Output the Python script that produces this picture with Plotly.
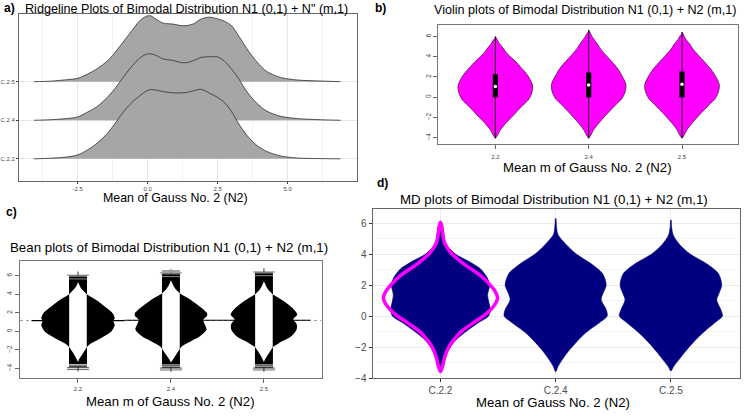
import plotly.graph_objects as go

W, H = 746, 416
FONT = "Liberation Sans, Arial, sans-serif"

# ---------------- Panel a: ridgeline densities ----------------
ridge_x = [-4.06, -3.5, -2.9, -2.5, -2.15, -1.8, -1.45, -1.2, -0.9, -0.6, -0.3, -0.05, 0.1, 0.3,
           0.55, 0.9, 1.2, 1.4, 1.65, 1.9, 2.2, 2.5, 2.75, 3.0, 3.25, 3.55, 3.9, 4.25, 4.75, 5.35, 6.2, 6.89]
ridge_labels = ["C.2.2", "C.2.4", "C.2.5"]
dens_c25 = [0, 0.5, 2, 3.4, 7.7, 13.3, 20.8, 28.3, 39.3, 50.3, 61.2, 66.2, 66.7, 63.2, 59.2, 58.3, 56.7,
            56.8, 58.7, 63.3, 65.3, 63.5, 61, 56.5, 46.3, 33, 20, 10.4, 4.3, 1.7, 0.7, 0]
dens_c24 = [0, 0.5, 1.7, 3.4, 8.3, 14, 23, 31, 42.5, 53.5, 62.5, 66.8, 67.3, 65.5, 62, 60.5, 58.3,
            58.3, 60.5, 63.5, 64.2, 64, 59.5, 51.5, 42, 28.6, 17.2, 9.3, 4, 1.7, 0.5, 0]
dens_c22 = [0, 0.6, 1.8, 4, 9, 16, 25.5, 34.5, 46.3, 56, 63.5, 68.5, 70, 69.5, 68, 66.7, 66.7,
            67.2, 69, 70.3, 66.5, 62, 56.8, 47.5, 35.5, 23.5, 13.5, 7.5, 2.8, 0.8, 0.2, 0]
ridge_ticks = [-2.5, 0.0, 2.5, 5.0]
ridge_ticktext = ["-2.5", "0.0", "2.5", "5.0"]

# ---------------- Panel b: violin profiles ----------------
violin_labels = ["2.2", "2.4", "2.5"]
vio_y_22 = [6.0, 5.7, 5.3, 4.86, 4.4, 4.0, 3.5, 2.9, 2.4, 2.0, 1.5, 1.1, 0.7, 0.3, -0.3, -0.8, -1.3,
            -2.0, -2.5, -2.9, -3.3, -3.6, -3.85, -4.05]
vio_y_24 = [6.65, 6.3, 5.9, 5.4, 4.9, 4.4, 3.8, 3.2, 2.6, 2.1, 1.6, 1.2, 0.8, 0.4, -0.2, -0.7, -1.2,
            -1.9, -2.45, -2.85, -3.3, -3.6, -3.85, -4.05]
vio_y_25 = [6.45, 6.1, 5.7, 5.25, 4.75, 4.3, 3.7, 3.1, 2.55, 2.1, 1.6, 1.2, 0.8, 0.4, -0.2, -0.7, -1.2,
            -1.9, -2.45, -2.85, -3.3, -3.6, -3.85, -4.05]
vio_dens = [0, 1.8, 4, 7.7, 11, 15, 20.5, 26, 30.5, 33.3, 36, 37.3, 37, 36, 32.7, 27.5, 22.7,
            16, 11, 7.7, 4.5, 3, 1.5, 0]
vio_q1 = [0.0, 0.0, 0.0]
vio_q3 = [2.27, 2.44, 2.54]
vio_med = [1.07, 1.22, 1.28]

# ---------------- Panel c: bean profiles ----------------
bean_labels = ["2.2", "2.4", "2.5"]
bean_y_22 = [4.3, 4.0, 3.3, 2.4, 1.9, 1.4, 1.15, 0.7, 0.0, -0.7, -1.4, -1.7, -2.0]
bean_d_22 = [3, 8.5, 19.3, 30, 35, 36.7, 35.3, 36.7, 33.3, 23.3, 11.5, 8.5, 3]
bean_y_24 = [4.4, 4.1, 3.3, 2.4, 1.9, 1.6, 1.25, 0.72, 0.2, -0.5, -1.0, -1.6, -1.9, -2.2]
bean_d_24 = [3, 8.5, 21, 32, 36.3, 35.6, 32.3, 34, 35.6, 29.4, 21, 11, 8.5, 3]
bean_y_25 = [4.3, 4.0, 3.3, 2.6, 2.1, 1.8, 1.3, 0.8, 0.2, -0.5, -1.2, -1.7, -2.0]
bean_d_25 = [3, 8.5, 19.3, 27.7, 32, 33.3, 29.3, 32.7, 32.7, 27.7, 16, 8.5, 3]
white_y_22 = [5.3, 5.0, 4.7, 4.4, 4.15, 4.0, -1.7, -1.95, -2.3, -2.7, -3.0, -3.3]
white_y_24 = [5.5, 5.2, 4.85, 4.5, 4.25, 4.1, -1.9, -2.15, -2.5, -2.85, -3.1, -3.35]
white_y_25 = [5.4, 5.1, 4.75, 4.4, 4.15, 4.0, -1.7, -1.95, -2.3, -2.7, -3.0, -3.3]
white_d = [0, 1.1, 2.7, 4.9, 7.3, 8.8, 8.8, 7.3, 4.9, 2.7, 1.1, 0]
bean_min = [-3.86, -3.9, -3.9]
bean_max = [6.0, 6.25, 6.35]
bean_mean = [1.16, 1.2, 1.2]
overall_mean = 1.18

# ---------------- Panel d: MD plot profiles ----------------
md_labels = ["C.2.2", "C.2.4", "C.2.5"]
md_y_22 = [5.6, 5.16, 4.5, 4.0, 3.47, 3.05, 2.5, 2.0, 1.37, 0.95, 0.42, 0.0, -0.42, -0.95, -1.47,
           -2.0, -2.53, -3.05, -3.58]
md_d_22 = [0, 2.7, 7.3, 15, 30, 40, 46.7, 49.3, 47.3, 48.3, 50, 48.3, 38.3, 26.7, 16.7, 10, 5.7, 3, 0]
md_y_24 = [6.3, 5.8, 5.26, 4.6, 4.0, 3.37, 2.74, 2.0, 1.47, 1.05, 0.42, 0.0, -0.42, -1.05, -1.68,
           -2.3, -2.84, -3.26, -3.6]
md_d_24 = [0.4, 0.8, 2.3, 10.7, 20.7, 35.7, 47, 50.7, 47.5, 45.7, 50.7, 51.7, 44, 30.7, 20.7, 12.3,
           6.3, 2.3, 0]
md_y_25 = [6.2, 5.7, 5.2, 4.6, 4.0, 3.37, 2.74, 2.0, 1.47, 1.05, 0.42, 0.0, -0.42, -1.05, -1.68,
           -2.3, -2.84, -3.26, -3.55]
md_d_25 = [0.4, 0.8, 2.5, 9, 19.3, 36, 47.7, 51, 48.3, 46, 50, 51.7, 44.3, 32.7, 22.7, 14.3, 7.7, 2.7, 0]
gauss_y = [6.05, 5.8, 4.74, 4.0, 3.37, 2.63, 2.0, 1.58, 1.16, 0.63, 0.1, -0.42, -0.95, -1.47, -2.0,
           -2.63, -3.26, -3.58]
gauss_d = [0, 1.3, 4, 11.7, 23.3, 40, 50, 55, 57.3, 53.3, 45, 33.3, 21.7, 14, 8.3, 4.3, 2, 0]

# ---------------- scale constants (style) ----------------
RIDGE_SCALE = 1 / 39.0
VIO_SCALE = 1 / 93.3
BEAN_SCALE = 1 / 93.0
MD_SCALE = 1 / 115.6


def mirror(c, ys, ds, scale, close=False):
    X = [c + d * scale for d in ds]
    Y = list(ys)
    for i in range(len(ys) - 1, -1, -1):
        if ds[i] == 0:
            continue
        X.append(c - ds[i] * scale)
        Y.append(ys[i])
    if close:
        X.append(X[0])
        Y.append(Y[0])
    return X, Y


fig = go.Figure()


def poly(X, Y, ax, fill, line_color=None, lw=0, shape="spline"):
    fig.add_trace(go.Scatter(
        x=X, y=Y, xaxis="x" + ax, yaxis="y" + ax, mode="lines", fill="toself",
        fillcolor=fill, line=dict(color=line_color or fill, width=lw, shape=shape, smoothing=0.8),
        hoverinfo="skip", showlegend=False))


def seg(X, Y, ax, color, lw=1, dash="solid"):
    fig.add_trace(go.Scatter(
        x=X, y=Y, xaxis="x" + ax, yaxis="y" + ax, mode="lines",
        line=dict(color=color, width=lw, dash=dash), hoverinfo="skip", showlegend=False))


# ---- a: ridges (top row first, lower rows overlay) ----
for base, dens in [(3, dens_c25), (2, dens_c24), (1, dens_c22)]:
    yy = [base + d * RIDGE_SCALE for d in dens]
    fig.add_trace(go.Scatter(
        x=ridge_x, y=yy, xaxis="x", yaxis="y", mode="lines", fill="toself", fillcolor="#A6A6A6",
        line=dict(color="#303030", width=0.8, shape="spline", smoothing=0.8),
        hoverinfo="skip", showlegend=False))

# ---- b: violins ----
for i, vy in enumerate([vio_y_22, vio_y_24, vio_y_25]):
    c = i + 1
    X, Y = mirror(c, vy, vio_dens, VIO_SCALE)
    poly(X, Y, "2", "#FF00FF", "#5a0a5a", 0.8)
    seg([c, c], [vy[-1], vy[0]], "2", "#000000", 0.9)
    bw = 2.6 * VIO_SCALE
    poly([c - bw, c + bw, c + bw, c - bw], [vio_q1[i], vio_q1[i], vio_q3[i], vio_q3[i]], "2",
         "#000000", shape="linear")
    fig.add_trace(go.Scatter(x=[c], y=[vio_med[i]], xaxis="x2", yaxis="y2", mode="markers",
                             marker=dict(color="white", size=3.5), hoverinfo="skip", showlegend=False))

# ---- c: beans ----
seg([0.376, 3.62], [overall_mean, overall_mean], "3", "#9a9a9a", 1, "dot")
bean_profiles = [(bean_y_22, bean_d_22, white_y_22), (bean_y_24, bean_d_24, white_y_24),
                 (bean_y_25, bean_d_25, white_y_25)]
bhw = 9.0 * BEAN_SCALE
for i, (by, bd, wy) in enumerate(bean_profiles):
    c = i + 1
    seg([c - 0.5, c + 0.5], [bean_mean[i], bean_mean[i]], "3", "#000000", 1.2)
    # thin line behind the bean (visible only beyond the ends)
    seg([c, c], [bean_min[i] - 0.45, bean_max[i] + 0.45], "3", "#000000", 0.8)
    X, Y = mirror(c, by, bd, BEAN_SCALE)
    poly(X, Y, "3", "#000000")
    poly([c - bhw, c + bhw, c + bhw, c - bhw], [bean_min[i], bean_min[i], bean_max[i], bean_max[i]],
         "3", "#000000", shape="linear")
    X, Y = mirror(c, wy, white_d, BEAN_SCALE)
    poly(X, Y, "3", "#FFFFFF", shape="linear")
    # tail lines
    for yv, col in [(bean_max[i] - 0.05, "#a8a8a8"), (bean_max[i] - 0.35, "#8a8a8a"),
                    (bean_min[i] + 0.3, "#bdbdbd"), (bean_min[i] + 0.15, "#d0d0d0")]:
        seg([c - bhw, c + bhw], [yv, yv], "3", col, 1)
    cw = 11 * BEAN_SCALE
    seg([c - cw, c + cw], [bean_min[i] - 0.05, bean_min[i] - 0.05], "3", "#222222", 0.8)
    seg([c - cw, c + cw], [bean_min[i] - 0.25, bean_min[i] - 0.25], "3", "#444444", 0.8)
    seg([c - cw, c + cw], [bean_max[i] + 0.05, bean_max[i] + 0.05], "3", "#555555", 0.8)
# grey patch above bean 2.4
poly([2 - bhw, 2 + bhw, 2 + bhw, 2 - bhw], [6.33, 6.33, 6.6, 6.6], "3", "#a0a0a0", shape="linear")

# ---- d: MD plots ----
for i, (my, md) in enumerate([(md_y_22, md_d_22), (md_y_24, md_d_24), (md_y_25, md_d_25)]):
    c = i + 1
    X, Y = mirror(c, my, md, MD_SCALE)
    poly(X, Y, "4", "#000080", "#000080", 0.6)
X, Y = mirror(1, gauss_y, gauss_d, MD_SCALE, close=True)
fig.add_trace(go.Scatter(x=X, y=Y, xaxis="x4", yaxis="y4", mode="lines",
                         line=dict(color="#FF00FF", width=3.5, shape="spline", smoothing=0.8),
                         hoverinfo="skip", showlegend=False))


def dom_x(a, b):
    return [a / W, b / W]


def dom_y(top, bottom):
    return [1 - bottom / H, 1 - top / H]


small_ax = dict(showline=True, mirror=True, zeroline=False, ticks="outside")

fig.update_layout(
    width=W, height=H, margin=dict(l=0, r=0, t=0, b=0), autosize=False,
    paper_bgcolor="white", plot_bgcolor="white", font=dict(family=FONT, color="#000000"),
    showlegend=False,
    # a
    xaxis=dict(domain=dom_x(18, 356), range=[-4.6, 7.46], anchor="y", tickvals=ridge_ticks,
               ticktext=ridge_ticktext, tickfont=dict(size=6, color="#4d4d4d"), ticklen=2,
               tickcolor="#333", showgrid=True, gridcolor="#e6e6e6", gridwidth=0.8,
               minor=dict(tickvals=[-3.75, -1.25, 1.25, 3.75, 6.25], showgrid=True,
                          gridcolor="#f2f2f2", ticks=""),
               linecolor="#666666", linewidth=1, **small_ax),
    yaxis=dict(domain=dom_y(14, 183), range=[0.43, 4.76], anchor="x", tickvals=[1, 2, 3],
               ticktext=ridge_labels, tickfont=dict(size=6, color="#4d4d4d"), ticklen=2,
               tickcolor="#333", showgrid=True, gridcolor="#e6e6e6", gridwidth=0.8,
               linecolor="#666666", linewidth=1, **small_ax),
    # b
    xaxis2=dict(domain=dom_x(438, 738), range=[0.39, 3.6], anchor="y2", tickvals=[1, 2, 3],
                ticktext=violin_labels, tickfont=dict(size=6, color="#444"), ticklen=4,
                ticklabelstandoff=3,
                tickcolor="#666", showgrid=False, linecolor="#777777", linewidth=1, **small_ax),
    yaxis2=dict(domain=dom_y(25, 145.5), range=[-4.6, 7.17], anchor="x2",
                tickvals=[-4, -2, 0, 2, 4, 6], tickangle=-90, tickfont=dict(size=6.5, color="#444"),
                ticklen=4, tickcolor="#666", showgrid=False, linecolor="#777777", linewidth=1,
                **small_ax),
    # c
    xaxis3=dict(domain=dom_x(19, 321), range=[0.376, 3.62], anchor="y3", tickvals=[1, 2, 3],
                ticktext=bean_labels, tickfont=dict(size=6, color="#444"), ticklen=4,
                tickcolor="#666", showgrid=False, linecolor="#777777", linewidth=1, **small_ax),
    yaxis3=dict(domain=dom_y(264, 383), range=[-5.06, 7.6], anchor="x3",
                tickvals=[-4, -2, 0, 2, 4, 6], tickangle=-90, tickfont=dict(size=6.5, color="#444"),
                ticklen=4, tickcolor="#666", showgrid=False, linecolor="#777777", linewidth=1,
                **small_ax),
    # d
    xaxis4=dict(domain=dom_x(372, 740), range=[0.41, 3.6], anchor="y4", tickvals=[1, 2, 3],
                ticktext=md_labels, tickfont=dict(size=10, color="#4d4d4d"), ticklen=3,
                tickcolor="#333", showgrid=True, gridcolor="#ebebeb", linecolor="#666666",
                linewidth=1, **small_ax),
    yaxis4=dict(domain=dom_y(212, 383), range=[-4.02, 6.88], anchor="x4",
                tickvals=[-4, -2, 0, 2, 4, 6], tickfont=dict(size=10, color="#4d4d4d"), ticklen=3,
                tickcolor="#333", showgrid=True, gridcolor="#ebebeb",
                minor=dict(tickvals=[-3, -1, 1, 3, 5], showgrid=True, gridcolor="#f5f5f5", ticks=""),
                linecolor="#666666", linewidth=1, **small_ax),
)


def txt(s, x, y, size, bold=False, anchor="center"):
    fig.add_annotation(text=("<b>%s</b>" % s) if bold else s, x=x / W, y=1 - y / H, xref="paper",
                       yref="paper", xanchor=anchor, yanchor="middle", showarrow=False,
                       font=dict(family=FONT, size=size, color="#000000"))


txt("a)", 1, 8, 12, True, "left")
txt("b)", 372, 8, 12, True, "left")
txt("c)", 3, 215, 12, True, "left")
txt("d)", 375, 185, 12, True, "left")
txt("Ridgeline Plots of Bimodal Distribution N1 (0,1) + N\" (m,1)", 186, 9, 12.6)
txt("Mean of Gauss No. 2 (N2)", 175, 200, 12.4)
txt("Violin plots of Bimodal Distribution N1 (0,1) + N2 (m,1)", 585, 10, 12.6)
txt("Mean m of Gauss No. 2 (N2)", 587, 170, 13.2)
txt("Bean plots of Bimodal Distribution N1 (0,1) + N2 (m,1)", 168, 251, 13.3)
txt("Mean m of Gauss No. 2 (N2)", 170, 406, 13.2)
txt("MD plots of Bimodal Distribution N1 (0,1) + N2 (m,1)", 554, 202, 13.3)
txt("Mean of Gauss No. 2 (N2)", 553, 407, 13.2)

fig.write_html("out.html", config={"displayModeBar": False},
               post_script="document.body.style.margin='0px';")
